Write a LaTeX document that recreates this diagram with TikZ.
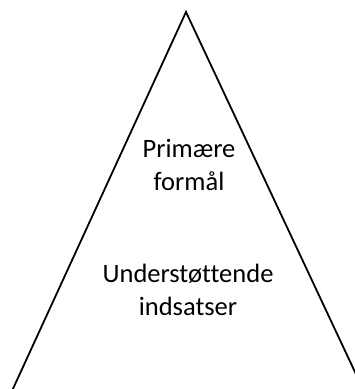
\documentclass[tikz,border=0pt]{standalone}
\usepackage{fontspec}
\setmainfont[RawFeature=-liga]{Carlito}
\begin{document}
\begin{tikzpicture}[x=1pt,y=1pt,
  label text/.style={align=center, inner sep=0pt, font=\fontsize{26.5}{32.5}\selectfont},
  edge/.style={line width=1.8pt, line cap=round, line join=miter}]
  \useasboundingbox (0,0) rectangle (355,389);
  \clip (0,0) rectangle (355,389);
  % triangle corners (the base lies below the visible area)
  \coordinate (apex) at (186,377);
  \coordinate (left) at (6,-15);
  \coordinate (right) at (370,-15);
  \draw[edge] (left) -- (apex) -- (right);
  \node[label text] (top) at (189,224) {Primære\\formål};
  \node[label text] (bottom) at (188,99) {Understøttende\\indsatser};
\end{tikzpicture}
\end{document}
